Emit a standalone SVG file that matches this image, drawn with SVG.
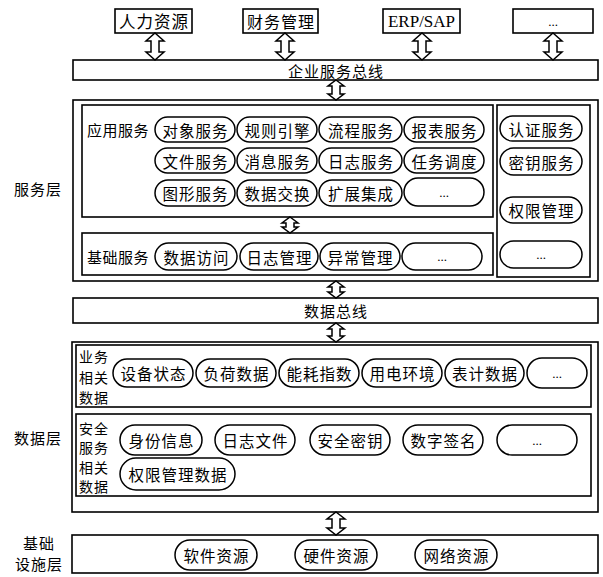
<svg xmlns="http://www.w3.org/2000/svg" width="603" height="577" viewBox="0 0 603 577">
<style>
.box{fill:#fff;stroke:#000;stroke-width:1.6}
.pill{fill:#fff;stroke:#000;stroke-width:1.5}
.arr{fill:#fff;stroke:#000;stroke-width:1.5;stroke-linejoin:miter}
text{font-family:"Noto Sans CJK SC","Liberation Serif",sans-serif;font-size:15px;fill:#000;dominant-baseline:central}
.c{text-anchor:middle}
.p{font-size:15.5px;letter-spacing:1px}
.s{font-size:14px;letter-spacing:1px}
.en{font-family:"Liberation Serif",serif;font-size:17px}
.dots{font-family:"Liberation Serif",serif;font-size:13px}
</style>
<rect width="603" height="577" fill="#fff"/>

<!-- left layer labels -->
<g id="label-service"><text x="38" y="188" class="c" style="letter-spacing:1px">服务层</text></g>
<g id="label-data"><text x="38" y="437" class="c" style="letter-spacing:1px">数据层</text></g>
<g id="label-infra"><text x="39" y="542" class="c" style="letter-spacing:1px">基础</text><text x="39" y="563" class="c" style="letter-spacing:1px">设施层</text></g>

<!-- top systems -->
<g id="hr"><rect class="box" x="115" y="9" width="77" height="24"/><text x="154" y="21" class="c" style="font-size:16.5px;letter-spacing:1px">人力资源</text></g>
<g id="finance"><rect class="box" x="243" y="9" width="75" height="24"/><text x="281" y="21" class="c" style="font-size:16px;letter-spacing:1px">财务管理</text></g>
<g id="erp"><rect class="box" x="383" y="9" width="77" height="24"/><text x="421.5" y="21" class="c en">ERP/SAP</text></g>
<g id="more-sys"><rect class="box" x="513" y="9" width="80" height="24"/><text x="553" y="21" class="c dots">...</text></g>

<!-- enterprise service bus -->
<g id="esb"><rect class="box" x="73" y="60" width="525" height="20"/><text x="336" y="70" class="c" style="letter-spacing:1px">企业服务总线</text></g>

<!-- service layer -->
<g id="service-layer"><rect class="box" x="73" y="100" width="525" height="181"/></g>
<g id="app-services">
<rect class="box" x="82" y="105" width="411" height="112"/>
<text x="87" y="129" style="letter-spacing:0.5px">应用服务</text>
</g>
<g id="svc-object"><rect class="pill" x="155" y="117" width="80" height="25" rx="12.5"/><text x="195.5" y="129.5" class="c p">对象服务</text></g>
<g id="svc-rule"><rect class="pill" x="237" y="117" width="80" height="25" rx="12.5"/><text x="277.5" y="129.5" class="c p">规则引擎</text></g>
<g id="svc-flow"><rect class="pill" x="319" y="117" width="83" height="25" rx="12.5"/><text x="361" y="129.5" class="c p">流程服务</text></g>
<g id="svc-report"><rect class="pill" x="404" y="117" width="80" height="25" rx="12.5"/><text x="444.5" y="129.5" class="c p">报表服务</text></g>
<g id="svc-file"><rect class="pill" x="155" y="148" width="80" height="25" rx="12.5"/><text x="195.5" y="160.5" class="c p">文件服务</text></g>
<g id="svc-msg"><rect class="pill" x="237" y="148" width="80" height="25" rx="12.5"/><text x="277.5" y="160.5" class="c p">消息服务</text></g>
<g id="svc-log"><rect class="pill" x="319" y="148" width="83" height="25" rx="12.5"/><text x="361" y="160.5" class="c p">日志服务</text></g>
<g id="svc-task"><rect class="pill" x="404" y="148" width="80" height="25" rx="12.5"/><text x="444.5" y="160.5" class="c p">任务调度</text></g>
<g id="svc-graph"><rect class="pill" x="155" y="180" width="80" height="26" rx="13"/><text x="195.5" y="193" class="c p">图形服务</text></g>
<g id="svc-exchange"><rect class="pill" x="237" y="180" width="80" height="26" rx="13"/><text x="277.5" y="193" class="c p">数据交换</text></g>
<g id="svc-ext"><rect class="pill" x="319" y="180" width="83" height="26" rx="13"/><text x="361" y="193" class="c p">扩展集成</text></g>
<g id="svc-more"><rect class="pill" x="404" y="178" width="80" height="28" rx="14"/><text x="444" y="192" class="c dots">...</text></g>

<g id="base-services">
<rect class="box" x="82" y="233" width="411" height="42"/>
<text x="87" y="256" style="letter-spacing:0.5px">基础服务</text>
</g>
<g id="base-access"><rect class="pill" x="155" y="243" width="82" height="27" rx="13.5"/><text x="196.5" y="256.5" class="c p">数据访问</text></g>
<g id="base-log"><rect class="pill" x="240" y="243" width="78" height="27" rx="13.5"/><text x="279.5" y="256.5" class="c p">日志管理</text></g>
<g id="base-exc"><rect class="pill" x="320" y="243" width="80" height="27" rx="13.5"/><text x="360.5" y="256.5" class="c p">异常管理</text></g>
<g id="base-more"><rect class="pill" x="402" y="243" width="80" height="27" rx="13.5"/><text x="442" y="256.5" class="c dots">...</text></g>

<g id="security-services"><rect class="box" x="497" y="105" width="93" height="172"/></g>
<g id="sec-auth"><rect class="pill" x="500" y="116" width="82" height="25" rx="12.5"/><text x="541.5" y="128.5" class="c p">认证服务</text></g>
<g id="sec-key"><rect class="pill" x="500" y="148" width="82" height="27" rx="13.5"/><text x="541.5" y="161.5" class="c p">密钥服务</text></g>
<g id="sec-perm"><rect class="pill" x="500" y="197" width="82" height="26" rx="13"/><text x="541.5" y="210" class="c p">权限管理</text></g>
<g id="sec-more"><rect class="pill" x="500" y="241" width="82" height="27" rx="13.5"/><text x="541" y="254.5" class="c dots">...</text></g>

<!-- data bus -->
<g id="data-bus"><rect class="box" x="73" y="298" width="525" height="25"/><text x="336" y="310.5" class="c" style="letter-spacing:1px">数据总线</text></g>

<!-- data layer -->
<g id="data-layer"><rect class="box" x="72" y="342" width="526" height="170"/></g>
<g id="biz-data">
<rect class="box" x="76" y="345" width="515" height="62"/>
<text x="79" y="356" class="s">业务</text>
<text x="79" y="377" class="s">相关</text>
<text x="79" y="397" class="s">数据</text>
</g>
<g id="biz-device"><rect class="pill" x="113" y="359" width="80" height="28" rx="14"/><text x="153.5" y="373" class="c p">设备状态</text></g>
<g id="biz-load"><rect class="pill" x="196" y="359" width="80" height="28" rx="14"/><text x="236.5" y="373" class="c p">负荷数据</text></g>
<g id="biz-energy"><rect class="pill" x="279" y="359" width="80" height="28" rx="14"/><text x="319.5" y="373" class="c p">能耗指数</text></g>
<g id="biz-env"><rect class="pill" x="362" y="359" width="80" height="28" rx="14"/><text x="402.5" y="373" class="c p">用电环境</text></g>
<g id="biz-meter"><rect class="pill" x="445" y="359" width="79" height="28" rx="14"/><text x="485" y="373" class="c p">表计数据</text></g>
<g id="biz-more"><rect class="pill" x="527" y="358" width="60" height="30" rx="15"/><text x="557" y="373" class="c dots">...</text></g>

<g id="sec-data">
<rect class="box" x="76" y="414" width="515" height="82"/>
<text x="79" y="428" class="s">安全</text>
<text x="79" y="447" class="s">服务</text>
<text x="79" y="467" class="s">相关</text>
<text x="79" y="486" class="s">数据</text>
</g>
<g id="sd-identity"><rect class="pill" x="120" y="425" width="82" height="30" rx="15"/><text x="161.5" y="440" class="c p">身份信息</text></g>
<g id="sd-log"><rect class="pill" x="215" y="425" width="80" height="30" rx="15"/><text x="255.5" y="440" class="c p">日志文件</text></g>
<g id="sd-key"><rect class="pill" x="310" y="425" width="80" height="30" rx="15"/><text x="350.5" y="440" class="c p">安全密钥</text></g>
<g id="sd-sign"><rect class="pill" x="403" y="425" width="80" height="30" rx="15"/><text x="443.5" y="440" class="c p">数字签名</text></g>
<g id="sd-more"><rect class="pill" x="497" y="425" width="80" height="30" rx="15"/><text x="537" y="440" class="c dots">...</text></g>
<g id="sd-perm"><rect class="pill" x="120" y="458" width="115" height="32" rx="16"/><text x="178" y="474" class="c p">权限管理数据</text></g>

<!-- infrastructure layer -->
<g id="infra"><rect class="box" x="72" y="535" width="526" height="38"/></g>
<g id="infra-sw"><rect class="pill" x="175" y="540" width="82" height="30" rx="15"/><text x="216.5" y="555" class="c p">软件资源</text></g>
<g id="infra-hw"><rect class="pill" x="295" y="540" width="82" height="30" rx="15"/><text x="336.5" y="555" class="c p">硬件资源</text></g>
<g id="infra-net"><rect class="pill" x="415" y="540" width="82" height="30" rx="15"/><text x="456.5" y="555" class="c p">网络资源</text></g>

<!-- connectors: hollow double arrows -->
<g id="connectors">
<path class="arr" d="M155,33 L164,41 L159,41 L159,52 L164,52 L155,60 L146,52 L151,52 L151,41 L146,41 Z"/>
<path class="arr" d="M285,33 L294,41 L289,41 L289,52 L294,52 L285,60 L276,52 L281,52 L281,41 L276,41 Z"/>
<path class="arr" d="M422,33 L431,41 L426,41 L426,52 L431,52 L422,60 L413,52 L418,52 L418,41 L413,41 Z"/>
<path class="arr" d="M553,33 L562,41 L557,41 L557,52 L562,52 L553,60 L544,52 L549,52 L549,41 L544,41 Z"/>
<path class="arr" d="M336,80 L344,86 L340,86 L340,94 L344,94 L336,100 L328,94 L332,94 L332,86 L328,86 Z"/>
<path class="arr" d="M290,217 L298,223 L294,223 L294,227 L298,227 L290,233 L282,227 L286,227 L286,223 L282,223 Z"/>
<path class="arr" d="M336,281 L344,287 L340,287 L340,292 L344,292 L336,298 L328,292 L332,292 L332,287 L328,287 Z"/>
<path class="arr" d="M336,323 L344,329 L340,329 L340,336 L344,336 L336,342 L328,336 L332,336 L332,329 L328,329 Z"/>
<path class="arr" d="M336,512 L345,519 L340,519 L340,528 L345,528 L336,535 L327,528 L332,528 L332,519 L327,519 Z"/>
</g>
</svg>
